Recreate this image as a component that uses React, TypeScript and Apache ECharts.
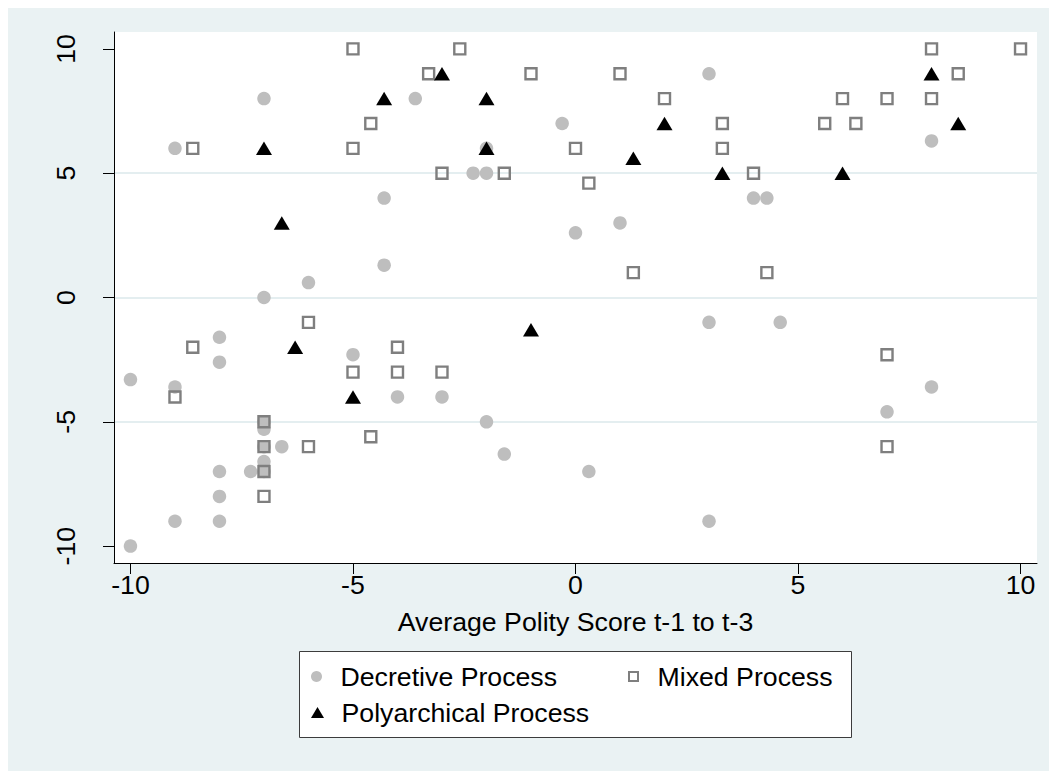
import React, { useEffect, useRef } from "react";
import * as echarts from "echarts";

// x = Average Polity Score t-1 to t-3, y = outcome score
const decretive: [number, number][] = [
  [-7, 8], [-3.6, 8], [-9, 6], [-4.3, 4], [-4.3, 1.3], [-6, 0.6], [-7, 0],
  [-8, -1.6], [-5, -2.3], [-8, -2.6], [-10, -3.3], [-9, -3.6], [-4, -4], [-3, -4],
  [-7, -5], [-7, -5.3], [-7, -6], [-6.6, -6], [-7, -6.6], [-7, -7], [-7.3, -7],
  [-8, -7], [-8, -8], [-9, -9], [-8, -9], [-10, -10], [3, 9], [-0.3, 7], [-2, 6],
  [-2.3, 5], [-2, 5], [4, 4], [4.3, 4], [1, 3], [0, 2.6], [8, 6.3], [3, -1],
  [-2, -5], [-1.6, -6.3], [0.3, -7], [3, -9], [4.6, -1], [8, -3.6], [7, -4.6],
];

const mixed: [number, number][] = [
  [-5, 10], [-3.3, 9], [-4.6, 7], [-8.6, 6], [-5, 6], [-3, 5], [-6, -1], [-8.6, -2],
  [-4, -2], [-5, -3], [-4, -3], [-3, -3], [-9, -4], [-7, -5], [-4.6, -5.6], [-7, -6],
  [-6, -6], [-7, -7], [-7, -8], [-2.6, 10], [-1, 9], [1, 9], [2, 8], [3.3, 7], [0, 6],
  [3.3, 6], [-1.6, 5], [0.3, 4.6], [4, 5], [1.3, 1], [4.3, 1], [8, 10], [10, 10],
  [8.6, 9], [6, 8], [7, 8], [8, 8], [5.6, 7], [6.3, 7], [7, -2.3], [7, -6],
];

const polyarchical: [number, number][] = [
  [-3, 9], [-4.3, 8], [-7, 6], [-6.6, 3], [-6.3, -2], [-5, -4], [-2, 8], [2, 7],
  [-2, 6], [1.3, 5.6], [3.3, 5], [8, 9], [8.6, 7], [6, 5], [-1, -1.3],
];

const tickValues = [-10, -5, 0, 5, 10];
const seriesNames = ["Decretive Process", "Mixed Process", "Polyarchical Process"];
const xTitle = "Average Polity Score t-1 to t-3";

const FONT = "'Liberation Sans', Arial, Helvetica, sans-serif";
const BG = "#eaf2f3";
const FS = 26.7;

export default function App() {
  const ref = useRef<HTMLDivElement>(null);

  useEffect(() => {
    document.documentElement.style.overflow = "hidden";
    document.body.style.overflow = "hidden";
    const chart = echarts.init(ref.current!, null, { renderer: "svg" });

    const legendText = { fontSize: FS, color: "#000", fontFamily: FONT };
    const legendBase = {
      orient: "horizontal",
      padding: 0,
      itemWidth: 38,
      selectedMode: false,
      symbolKeepAspect: true,
      textStyle: legendText,
    };

    chart.setOption({
      animation: false,
      backgroundColor: BG,
      textStyle: { fontFamily: FONT },
      grid: {
        left: 106,
        top: 24,
        right: 20,
        bottom: 208,
        show: true,
        backgroundColor: "#ffffff",
        borderWidth: 0,
        containLabel: false,
        outerBoundsMode: "none",
      },
      graphic: [
        {
          type: "rect",
          z: 1,
          silent: true,
          shape: { x: 291.5, y: 643.5, width: 552, height: 86 },
          style: { fill: "#ffffff", stroke: "#3c3c3c", lineWidth: 1 },
        },
      ],
      legend: [
        {
          ...legendBase,
          left: 303,
          top: 655,
          itemHeight: 11,
          data: [
            { name: seriesNames[0], icon: "circle", itemStyle: { color: "#bebebe", borderWidth: 0 } },
          ],
        },
        {
          ...legendBase,
          left: 620,
          top: 655,
          itemHeight: 9,
          data: [
            {
              name: seriesNames[1],
              icon: "path://M0,0L10,0L10,10L0,10Z",
              itemStyle: { color: "rgba(0,0,0,0)", borderColor: "#7f7f7f", borderWidth: 2 },
            },
          ],
        },
        {
          ...legendBase,
          left: 303,
          top: 691,
          itemHeight: 11,
          data: [
            {
              name: seriesNames[2],
              icon: "path://M6.5,0L13,11L0,11Z",
              itemStyle: { color: "#000000", borderWidth: 0 },
            },
          ],
        },
      ],
      xAxis: {
        type: "value",
        min: -10.37,
        max: 10.37,
        axisLine: { show: true, onZero: false, lineStyle: { color: "#000", width: 1 } },
        axisTick: { show: true, length: 11, customValues: tickValues, lineStyle: { color: "#000", width: 1 } },
        axisLabel: { customValues: tickValues, fontSize: FS, color: "#000", margin: 8, fontFamily: FONT },
        splitLine: { show: false },
        name: xTitle,
        nameLocation: "middle",
        nameGap: 45,
        nameTextStyle: { fontSize: FS, color: "#000", fontFamily: FONT },
      },
      yAxis: {
        type: "value",
        min: -10.68,
        max: 10.68,
        axisLine: { show: true, onZero: false, lineStyle: { color: "#000", width: 1 } },
        axisTick: { show: true, length: 11, customValues: tickValues, lineStyle: { color: "#000", width: 1 } },
        axisLabel: { customValues: tickValues, rotate: 90, fontSize: FS, color: "#000", margin: 35, fontFamily: FONT },
        splitLine: {
          show: true,
          showMinLine: false,
          showMaxLine: false,
          lineStyle: { color: "#e4eef0", width: 2 },
        },
      },
      series: [
        {
          name: seriesNames[0],
          type: "scatter",
          data: decretive,
          symbol: "circle",
          symbolSize: 13.5,
          clip: false,
          z: 2,
          itemStyle: { color: "#bebebe", opacity: 1 },
          emphasis: { disabled: true },
        },
        {
          name: seriesNames[1],
          type: "scatter",
          data: mixed,
          symbol: "rect",
          symbolSize: 11,
          clip: false,
          z: 3,
          itemStyle: { color: "rgba(0,0,0,0)", borderColor: "#7f7f7f", borderWidth: 2.4, opacity: 1 },
          emphasis: { disabled: true },
        },
        {
          name: seriesNames[2],
          type: "scatter",
          data: polyarchical,
          symbol: "triangle",
          symbolSize: [16, 13.5],
          clip: false,
          z: 4,
          itemStyle: { color: "#000000", opacity: 1 },
          emphasis: { disabled: true },
        },
      ],
    });

    return () => chart.dispose();
  }, []);

  return <div ref={ref} style={{ width: 1049, height: 763 }} />;
}
